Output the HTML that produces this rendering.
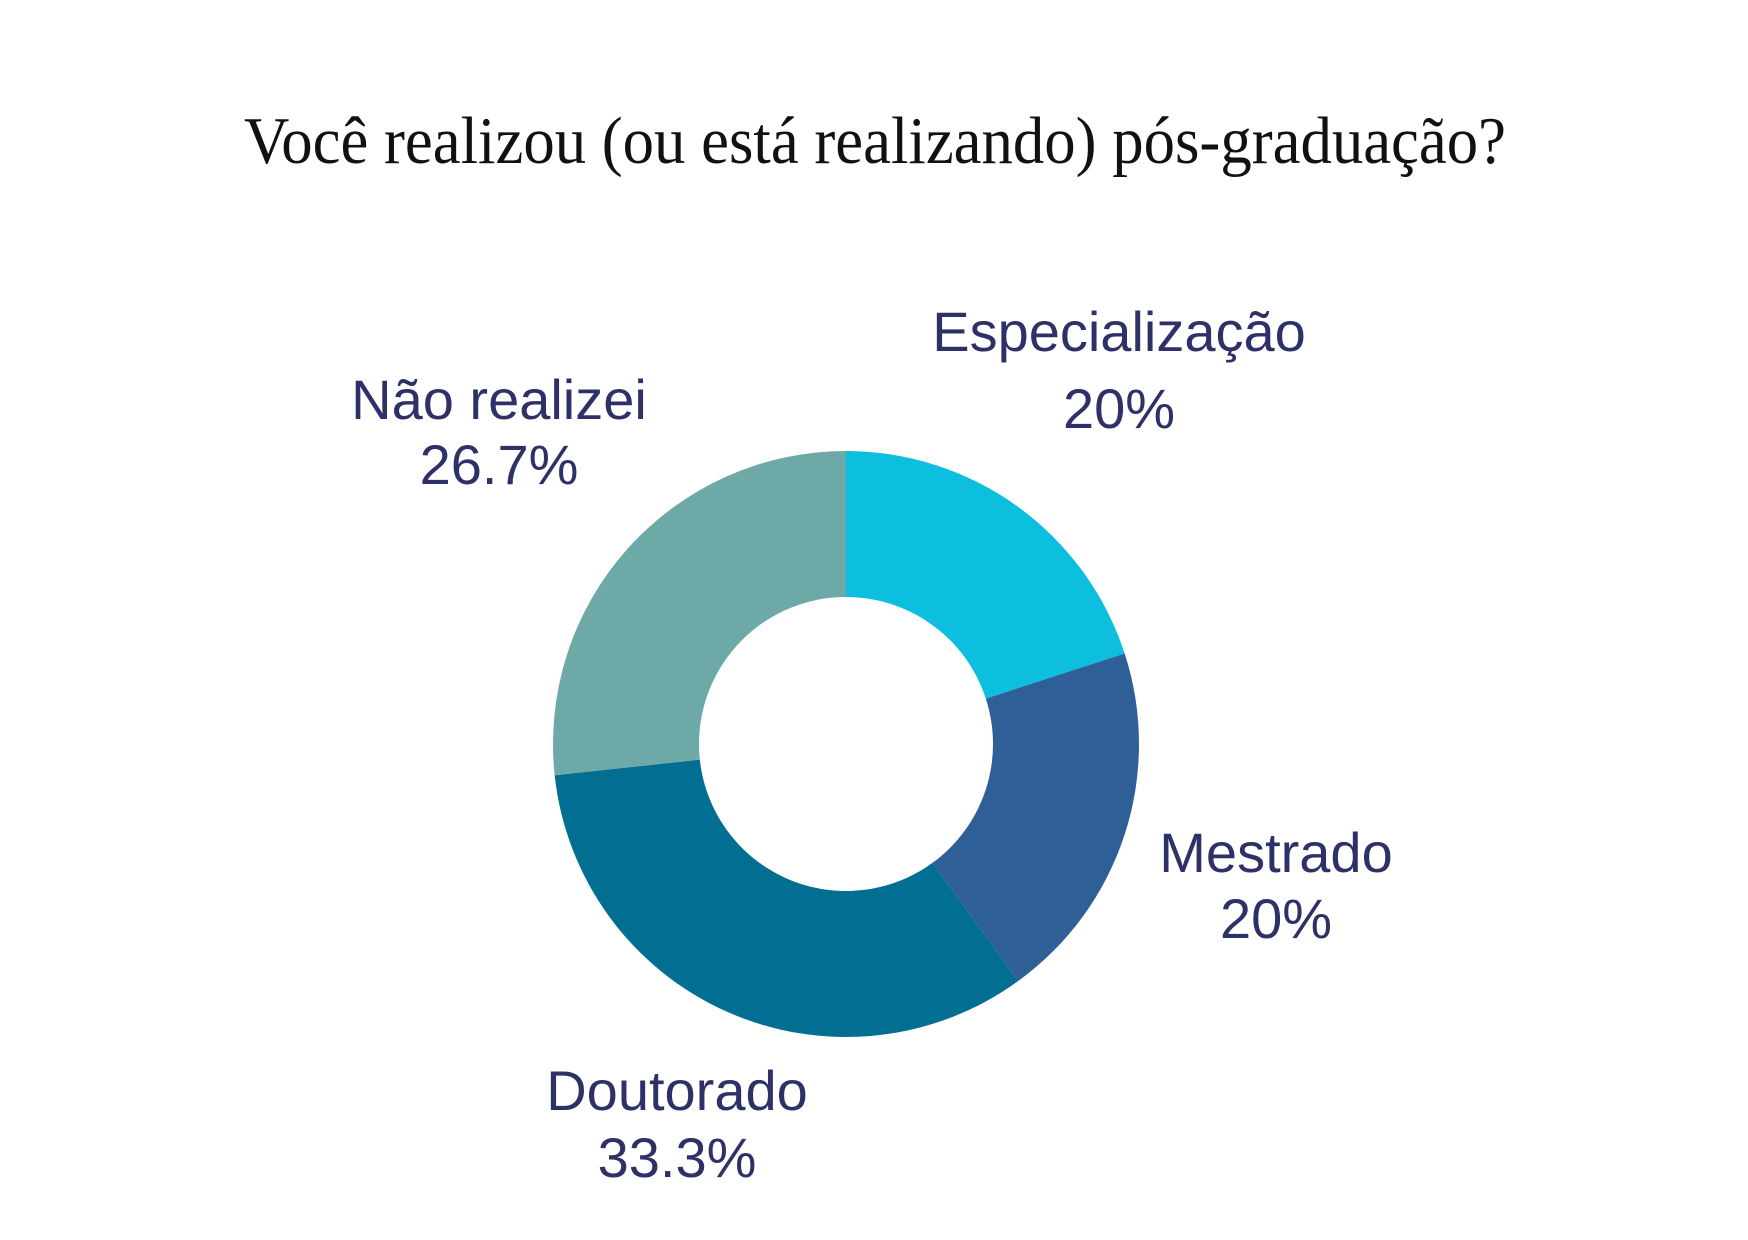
<!DOCTYPE html>
<html><head><meta charset="utf-8"><style>
html,body{margin:0;padding:0;background:#fff;}
svg{display:block;}
.lbl{font-family:"Liberation Sans",sans-serif;font-size:56px;fill:#2e3168;text-anchor:middle;}
</style></head><body>
<svg width="1748" height="1240" viewBox="0 0 1748 1240">
<rect width="1748" height="1240" fill="#fff"/>
<text x="875" y="163" font-family="Liberation Serif, serif" font-size="67" fill="#111" text-anchor="middle" textLength="1262" lengthAdjust="spacingAndGlyphs">Você realizou (ou está realizando) pós-graduação?</text>
<g id="slices"></g>
<g id="labels"></g>
</svg>
<script>
const categories = ["Especialização","Mestrado","Doutorado","Não realizei"];
const values = [20, 20, 33.3, 26.7];
const valueLabels = ["20%","20%","33.3%","26.7%"];
const colors = ["#0dbfdf","#2e5f96","#026e92","#6da9a7"];
const cx=846, cy=744, R=293, r=147;
const labelPos=[[1119,351,428],[1276,872,938],[677,1110,1177],[499,419,484]];
const total=values.reduce((a,b)=>a+b,0);
function pt(rad,a){return [cx+rad*Math.sin(a), cy-rad*Math.cos(a)];}
const ns="http://www.w3.org/2000/svg";
const gs=document.getElementById('slices'), gl=document.getElementById('labels');
let acc=0;
values.forEach((v,i)=>{
  const a0=acc/total*2*Math.PI; acc+=v; const a1=acc/total*2*Math.PI;
  const large=(a1-a0)>Math.PI?1:0;
  const [x0,y0]=pt(R,a0),[x1,y1]=pt(R,a1),[x2,y2]=pt(r,a1),[x3,y3]=pt(r,a0);
  const p=document.createElementNS(ns,'path');
  p.setAttribute('d',`M${x0},${y0}A${R},${R} 0 ${large} 1 ${x1},${y1}L${x2},${y2}A${r},${r} 0 ${large} 0 ${x3},${y3}Z`);
  p.setAttribute('fill',colors[i]);
  
  
  gs.appendChild(p);
  const [lx,ly1,ly2]=labelPos[i];
  const t1=document.createElementNS(ns,'text');
  t1.setAttribute('class','lbl');t1.setAttribute('x',lx);t1.setAttribute('y',ly1);t1.textContent=categories[i];
  
  
  gl.appendChild(t1);
  const t2=document.createElementNS(ns,'text');
  t2.setAttribute('class','lbl');t2.setAttribute('x',lx);t2.setAttribute('y',ly2);t2.textContent=valueLabels[i];
  
  
  gl.appendChild(t2);
});
</script>
</body></html>
